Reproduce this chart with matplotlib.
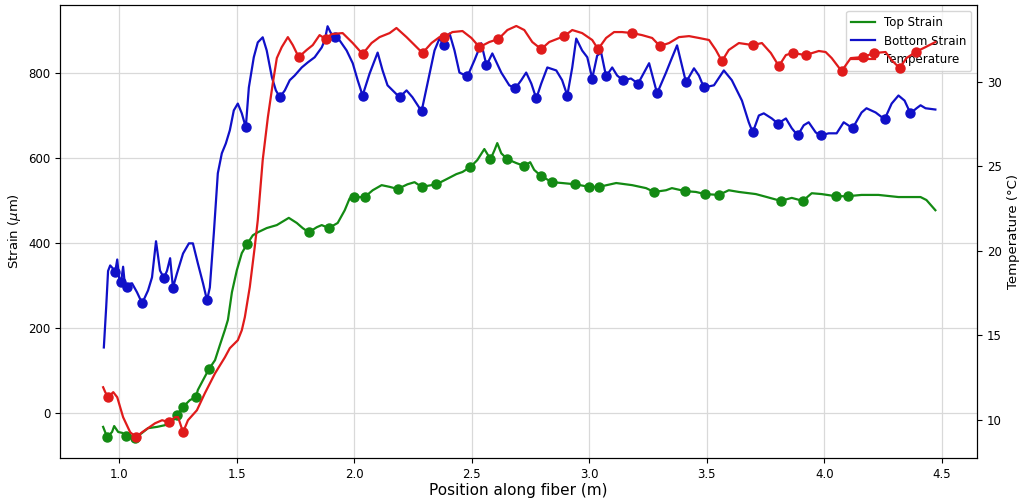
import numpy as np
import matplotlib
matplotlib.use("Agg")
import matplotlib.pyplot as plt

# donnees : position (m), deformation (um), temperature (degC)

top_x = [0.932, 0.949, 0.970, 0.979, 0.996, 1.013, 1.030, 1.047, 1.068, 1.098, 1.123,
         1.161, 1.195, 1.225, 1.246, 1.272, 1.301, 1.327, 1.335, 1.357, 1.382, 1.408,
         1.429, 1.450, 1.463, 1.480, 1.501, 1.522, 1.544, 1.569, 1.590, 1.628, 1.671,
         1.722, 1.756, 1.781, 1.807, 1.841, 1.862, 1.892, 1.930, 1.960, 1.981, 1.998,
         2.045, 2.079, 2.117, 2.151, 2.185, 2.227, 2.257, 2.287, 2.350, 2.393, 2.435,
         2.461, 2.495, 2.524, 2.554, 2.580, 2.597, 2.609, 2.626, 2.652, 2.690, 2.724,
         2.749, 2.766, 2.796, 2.843, 2.885, 2.941, 3.000, 3.042, 3.115, 3.183, 3.242,
         3.276, 3.327, 3.352, 3.408, 3.454, 3.493, 3.552, 3.594, 3.637, 3.709, 3.756,
         3.815, 3.862, 3.909, 3.947, 3.989, 4.049, 4.100, 4.159, 4.231, 4.316, 4.410,
         4.435, 4.473]
top_strain = [-32, -56, -44, -30, -44, -46, -53, -56, -58, -46, -35,
              -32, -28, -21, -4, 15, 31, 38, 55, 78, 104, 125,
              161, 196, 220, 285, 337, 377, 398, 419, 426, 436, 443,
              460, 448, 436, 426, 438, 443, 436, 448, 478, 506, 509,
              509, 525, 537, 533, 528, 539, 544, 533, 539, 551, 563,
              568, 580, 596, 622, 598, 619, 636, 612, 598, 589, 582,
              591, 573, 558, 544, 542, 539, 533, 533, 542, 537, 530,
              521, 525, 530, 523, 521, 516, 514, 525, 521, 516, 509,
              500, 507, 500, 518, 516, 511, 511, 514, 514, 509, 509,
              502, 478]
top_pts_x = [0.949, 1.030, 1.068, 1.246, 1.272, 1.327, 1.382, 1.544, 1.807, 1.892,
             1.998, 2.045, 2.185, 2.287, 2.350, 2.495, 2.580, 2.652, 2.724, 2.796,
             2.843, 2.941, 3.000, 3.042, 3.276, 3.408, 3.493, 3.552, 3.815, 3.909,
             4.049, 4.100]
top_pts = [-56, -53, -58, -4, 15, 38, 104, 398, 426, 436,
           509, 509, 528, 533, 539, 580, 598, 598, 582, 558,
           544, 539, 533, 533, 521, 523, 516, 514, 500, 500,
           511, 511]

bot_x = [0.935, 0.945, 0.953, 0.962, 0.975, 0.983, 0.992, 1.000, 1.008, 1.017, 1.025,
         1.034, 1.045, 1.055, 1.076, 1.098, 1.123, 1.140, 1.157, 1.174, 1.191, 1.204,
         1.217, 1.229, 1.246, 1.272, 1.297, 1.314, 1.335, 1.357, 1.374, 1.386, 1.403,
         1.420, 1.437, 1.454, 1.471, 1.488, 1.505, 1.522, 1.539, 1.552, 1.573, 1.590,
         1.611, 1.628, 1.650, 1.667, 1.684, 1.705, 1.726, 1.747, 1.777, 1.803, 1.832,
         1.862, 1.875, 1.887, 1.900, 1.917, 1.938, 1.968, 1.994, 2.015, 2.036, 2.066,
         2.100, 2.121, 2.142, 2.193, 2.223, 2.248, 2.287, 2.312, 2.342, 2.363, 2.384,
         2.406, 2.427, 2.448, 2.482, 2.512, 2.541, 2.563, 2.588, 2.626, 2.660, 2.686,
         2.711, 2.732, 2.754, 2.775, 2.796, 2.822, 2.860, 2.885, 2.907, 2.928, 2.945,
         2.970, 2.992, 3.013, 3.034, 3.051, 3.072, 3.098, 3.119, 3.144, 3.178, 3.208,
         3.255, 3.289, 3.327, 3.348, 3.374, 3.412, 3.446, 3.467, 3.488, 3.531, 3.573,
         3.607, 3.650, 3.679, 3.696, 3.722, 3.743, 3.777, 3.803, 3.837, 3.862, 3.887,
         3.913, 3.934, 3.964, 3.985, 4.019, 4.053, 4.083, 4.121, 4.159, 4.180, 4.219,
         4.257, 4.287, 4.316, 4.342, 4.367, 4.393, 4.410, 4.431, 4.473]
bot_strain = [155, 250, 335, 348, 340, 332, 362, 318, 308, 345, 300,
              298, 305, 306, 285, 259, 289, 320, 405, 336, 318, 336,
              365, 296, 329, 376, 400, 400, 353, 306, 266, 296, 424,
              565, 612, 635, 666, 713, 729, 706, 673, 767, 838, 873,
              885, 854, 791, 760, 744, 760, 784, 795, 814, 826, 838,
              861, 878, 911, 896, 885, 878, 854, 824, 784, 748, 800,
              849, 807, 772, 744, 760, 744, 711, 776, 854, 882, 866,
              894, 854, 802, 793, 831, 871, 819, 847, 802, 772, 765,
              784, 802, 776, 741, 776, 814, 807, 784, 748, 814, 882,
              854, 838, 788, 842, 849, 793, 814, 795, 784, 788, 776,
              824, 753, 802, 831, 866, 779, 812, 795, 767, 772, 807,
              784, 736, 685, 661, 701, 706, 694, 682, 694, 671, 654,
              678, 685, 661, 654, 659, 659, 685, 671, 708, 718, 708,
              692, 729, 748, 736, 706, 718, 725, 718, 715]
bot_pts_x = [0.983, 1.008, 1.034, 1.098, 1.191, 1.229, 1.374, 1.539, 1.684, 1.917,
             2.036, 2.193, 2.287, 2.384, 2.482, 2.563, 2.686, 2.775, 2.907, 3.013,
             3.072, 3.144, 3.208, 3.289, 3.412, 3.488, 3.696, 3.803, 3.887, 3.985,
             4.121, 4.257, 4.367]
bot_pts = [332, 308, 298, 259, 318, 296, 266, 673, 744, 885,
           748, 744, 711, 866, 793, 819, 765, 741, 748, 788,
           793, 784, 776, 753, 779, 767, 661, 682, 654, 654,
           671, 692, 706]

temp_x = [0.932, 0.941, 0.953, 0.975, 0.992, 1.017, 1.047, 1.072, 1.098, 1.123, 1.153,
          1.183, 1.212, 1.238, 1.251, 1.272, 1.293, 1.331, 1.365, 1.408, 1.450, 1.471,
          1.505, 1.522, 1.535, 1.556, 1.577, 1.590, 1.611, 1.633, 1.654, 1.671, 1.692,
          1.718, 1.739, 1.764, 1.798, 1.824, 1.853, 1.879, 1.904, 1.951, 1.994, 2.036,
          2.074, 2.108, 2.151, 2.180, 2.223, 2.257, 2.291, 2.329, 2.363, 2.384, 2.418,
          2.461, 2.499, 2.533, 2.575, 2.614, 2.652, 2.690, 2.724, 2.758, 2.796, 2.830,
          2.894, 2.928, 2.970, 3.013, 3.038, 3.072, 3.106, 3.140, 3.183, 3.225, 3.268,
          3.301, 3.340, 3.382, 3.425, 3.467, 3.510, 3.539, 3.565, 3.594, 3.637, 3.696,
          3.735, 3.773, 3.807, 3.837, 3.866, 3.921, 3.977, 4.006, 4.032, 4.074, 4.113,
          4.163, 4.214, 4.261, 4.287, 4.321, 4.350, 4.389, 4.431, 4.473]
temp = [11.93, 11.64, 11.34, 11.64, 11.34, 10.16, 9.27, 8.98, 9.27, 9.51, 9.80,
        9.98, 9.86, 10.16, 10.16, 9.27, 9.98, 10.57, 11.58, 12.75, 13.70, 14.24,
        14.71, 15.30, 16.08, 17.86, 20.22, 21.82, 25.37, 27.91, 29.92, 31.40, 32.05,
        32.64, 32.17, 31.46, 31.88, 32.17, 32.76, 32.53, 32.82, 32.88, 32.29, 31.64,
        32.29, 32.64, 32.88, 33.18, 32.64, 32.17, 31.70, 32.29, 32.64, 32.64, 32.94,
        33.00, 32.59, 32.05, 32.35, 32.53, 33.06, 33.30, 33.06, 32.35, 31.93, 32.35,
        32.70, 33.06, 32.88, 32.47, 31.93, 32.59, 32.94, 32.94, 32.88, 32.76, 32.59,
        32.11, 32.29, 32.64, 32.70, 32.59, 32.47, 31.88, 31.22, 31.88, 32.29, 32.17,
        32.29, 31.70, 30.93, 31.58, 31.70, 31.58, 31.82, 31.76, 31.40, 30.63, 31.40,
        31.46, 31.70, 31.76, 31.28, 30.81, 31.40, 31.76, 32.05, 32.35]
temp_pts_x = [0.953, 1.072, 1.212, 1.272, 1.764, 1.879, 2.036, 2.291, 2.384, 2.533,
              2.614, 2.796, 2.894, 3.038, 3.183, 3.301, 3.565, 3.696, 3.807, 3.866,
              3.921, 4.074, 4.163, 4.214, 4.321, 4.389]
temp_pts = [11.34, 8.98, 9.86, 9.27, 31.46, 32.53, 31.64, 31.70, 32.64, 32.05,
            32.53, 31.93, 32.70, 31.93, 32.88, 32.11, 31.22, 32.17, 30.93, 31.70,
            31.58, 30.63, 31.46, 31.70, 30.81, 31.76]

c_top = "#138a13"
c_bot = "#1010c8"
c_temp = "#e01b1b"

fig, ax1 = plt.subplots(figsize=(10.23, 5.01), dpi=100)
fig.subplots_adjust(left=0.059, right=0.955, bottom=0.086, top=0.99)

l1, = ax1.plot(top_x, top_strain, color=c_top, lw=1.6, label="Top Strain")
ax1.plot(top_pts_x, top_pts, "o", color=c_top, ms=6.5)
l2, = ax1.plot(bot_x, bot_strain, color=c_bot, lw=1.6, label="Bottom Strain")
ax1.plot(bot_pts_x, bot_pts, "o", color=c_bot, ms=6.5)

ax1.set_xlim(0.75, 4.65)
ax1.set_ylim(-105, 961)
ax1.set_xticks(np.arange(1.0, 4.51, 0.5))
ax1.set_yticks([0, 200, 400, 600, 800])
ax1.set_xlabel("Position along fiber (m)", fontsize=11, labelpad=2)
ax1.set_ylabel(r"Strain ($\mu$m)", fontsize=9.5)
ax1.tick_params(labelsize=8.5)
ax1.grid(True, color="#d9d9d9", lw=0.9)

ax2 = ax1.twinx()
l3, = ax2.plot(temp_x, temp, color=c_temp, lw=1.6, label="Temperature")
ax2.plot(temp_pts_x, temp_pts, "o", color=c_temp, ms=6.5)
ax2.set_ylim(7.75, 34.54)
ax2.set_yticks([10, 15, 20, 25, 30])
ax2.set_ylabel("Temperature (°C)", fontsize=9.5)
ax2.tick_params(labelsize=8.5)

ax1.legend([l1, l2, l3], ["Top Strain", "Bottom Strain", "Temperature"],
           loc="upper right", fontsize=8.5)

plt.savefig("out.png", dpi=100)
